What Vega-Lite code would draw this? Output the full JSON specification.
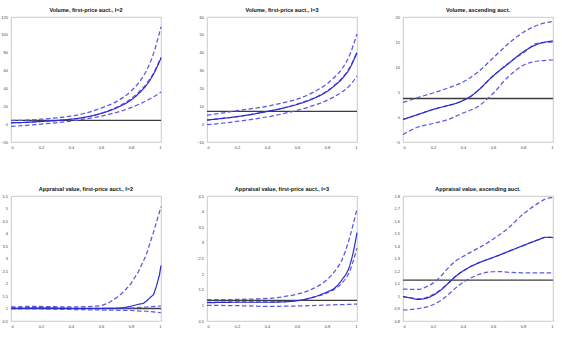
{
  "$schema": "https://vega.github.io/schema/vega-lite/v6.json",
  "background": "white",
  "autosize": {"type": "pad"},
  "padding": {"left": 0, "top": 7, "right": 4, "bottom": 4},
  "columns": 3,
  "spacing": {"row": 54, "column": 46},
  "bounds": "flush",
  "config": {
    "view": {"stroke": "#bdbdbd", "strokeWidth": 0.8},
    "axis": {
      "domain": false,
      "grid": false,
      "ticks": false,
      "labelPadding": 3.5,
      "labelFontSize": 4,
      "labelFont": "Liberation Sans",
      "labelColor": "#444444",
      "title": null,
      "format": "~r"
    },
    "title": {"fontSize": 5.5, "font": "Liberation Sans", "fontWeight": "bold", "color": "#111111", "offset": 2},
    "line": {"interpolate": "monotone"}
  },
  "datasets": {
    "vol_fp2": [
      {"x": 0, "y": 4.3, "series": "benchmark"}, {"x": 1, "y": 4.3, "series": "benchmark"},
      {"x": 0, "y": 4, "series": "upper"}, {"x": 0.1, "y": 4.5, "series": "upper"}, {"x": 0.2, "y": 5.5, "series": "upper"}, {"x": 0.3, "y": 7, "series": "upper"}, {"x": 0.4, "y": 9, "series": "upper"}, {"x": 0.5, "y": 12.5, "series": "upper"}, {"x": 0.6, "y": 18, "series": "upper"}, {"x": 0.7, "y": 25, "series": "upper"}, {"x": 0.8, "y": 37, "series": "upper"}, {"x": 0.85, "y": 46, "series": "upper"}, {"x": 0.9, "y": 59, "series": "upper"}, {"x": 0.95, "y": 79, "series": "upper"}, {"x": 1, "y": 109, "series": "upper"},
      {"x": 0, "y": -2.5, "series": "lower"}, {"x": 0.1, "y": -1.5, "series": "lower"}, {"x": 0.2, "y": 0, "series": "lower"}, {"x": 0.3, "y": 1.5, "series": "lower"}, {"x": 0.4, "y": 3.5, "series": "lower"}, {"x": 0.5, "y": 6, "series": "lower"}, {"x": 0.6, "y": 9, "series": "lower"}, {"x": 0.7, "y": 13, "series": "lower"}, {"x": 0.8, "y": 18.5, "series": "lower"}, {"x": 0.85, "y": 22, "series": "lower"}, {"x": 0.9, "y": 26, "series": "lower"}, {"x": 0.95, "y": 30.5, "series": "lower"}, {"x": 1, "y": 36, "series": "lower"},
      {"x": 0, "y": 1.5, "series": "median"}, {"x": 0.1, "y": 2, "series": "median"}, {"x": 0.2, "y": 3, "series": "median"}, {"x": 0.3, "y": 4, "series": "median"}, {"x": 0.4, "y": 5.5, "series": "median"}, {"x": 0.5, "y": 8, "series": "median"}, {"x": 0.6, "y": 12, "series": "median"}, {"x": 0.7, "y": 18.5, "series": "median"}, {"x": 0.8, "y": 28.5, "series": "median"}, {"x": 0.85, "y": 35.5, "series": "median"}, {"x": 0.9, "y": 44.5, "series": "median"}, {"x": 0.95, "y": 57, "series": "median"}, {"x": 1, "y": 75, "series": "median"},
      {"x": 0, "y": 1.5, "series": "estimate"}, {"x": 0.1, "y": 2, "series": "estimate"}, {"x": 0.2, "y": 3, "series": "estimate"}, {"x": 0.3, "y": 4, "series": "estimate"}, {"x": 0.4, "y": 5.5, "series": "estimate"}, {"x": 0.5, "y": 8, "series": "estimate"}, {"x": 0.6, "y": 12, "series": "estimate"}, {"x": 0.7, "y": 18, "series": "estimate"}, {"x": 0.8, "y": 27, "series": "estimate"}, {"x": 0.85, "y": 34, "series": "estimate"}, {"x": 0.9, "y": 43, "series": "estimate"}, {"x": 0.95, "y": 56, "series": "estimate"}, {"x": 1, "y": 74, "series": "estimate"}
    ],
    "vol_fp3": [
      {"x": 0, "y": 7.1, "series": "benchmark"}, {"x": 1, "y": 7.1, "series": "benchmark"},
      {"x": 0, "y": 5, "series": "upper"}, {"x": 0.1, "y": 6.2, "series": "upper"}, {"x": 0.2, "y": 7.5, "series": "upper"}, {"x": 0.3, "y": 8.7, "series": "upper"}, {"x": 0.4, "y": 10, "series": "upper"}, {"x": 0.5, "y": 11.8, "series": "upper"}, {"x": 0.6, "y": 14, "series": "upper"}, {"x": 0.7, "y": 17.5, "series": "upper"}, {"x": 0.8, "y": 22.6, "series": "upper"}, {"x": 0.85, "y": 26.3, "series": "upper"}, {"x": 0.9, "y": 31, "series": "upper"}, {"x": 0.95, "y": 38.5, "series": "upper"}, {"x": 1, "y": 50.5, "series": "upper"},
      {"x": 0, "y": -0.3, "series": "lower"}, {"x": 0.1, "y": 0.5, "series": "lower"}, {"x": 0.2, "y": 1.5, "series": "lower"}, {"x": 0.3, "y": 2.7, "series": "lower"}, {"x": 0.4, "y": 4, "series": "lower"}, {"x": 0.5, "y": 5.7, "series": "lower"}, {"x": 0.6, "y": 7.7, "series": "lower"}, {"x": 0.7, "y": 10.2, "series": "lower"}, {"x": 0.8, "y": 13.3, "series": "lower"}, {"x": 0.85, "y": 15.5, "series": "lower"}, {"x": 0.9, "y": 18, "series": "lower"}, {"x": 0.95, "y": 21.5, "series": "lower"}, {"x": 1, "y": 27, "series": "lower"},
      {"x": 0, "y": 2.3, "series": "median"}, {"x": 0.1, "y": 3.2, "series": "median"}, {"x": 0.2, "y": 4.2, "series": "median"}, {"x": 0.3, "y": 5.5, "series": "median"}, {"x": 0.4, "y": 7.1, "series": "median"}, {"x": 0.5, "y": 8.9, "series": "median"}, {"x": 0.6, "y": 11.2, "series": "median"}, {"x": 0.7, "y": 14.2, "series": "median"}, {"x": 0.8, "y": 18.5, "series": "median"}, {"x": 0.85, "y": 21.8, "series": "median"}, {"x": 0.9, "y": 25.8, "series": "median"}, {"x": 0.95, "y": 31.5, "series": "median"}, {"x": 1, "y": 40.5, "series": "median"},
      {"x": 0, "y": 2.3, "series": "estimate"}, {"x": 0.1, "y": 3.2, "series": "estimate"}, {"x": 0.2, "y": 4.2, "series": "estimate"}, {"x": 0.3, "y": 5.5, "series": "estimate"}, {"x": 0.4, "y": 7.1, "series": "estimate"}, {"x": 0.5, "y": 8.8, "series": "estimate"}, {"x": 0.6, "y": 11, "series": "estimate"}, {"x": 0.7, "y": 14, "series": "estimate"}, {"x": 0.8, "y": 18.3, "series": "estimate"}, {"x": 0.85, "y": 21.5, "series": "estimate"}, {"x": 0.9, "y": 25.4, "series": "estimate"}, {"x": 0.95, "y": 31, "series": "estimate"}, {"x": 1, "y": 40, "series": "estimate"}
    ],
    "vol_asc": [
      {"x": 0, "y": 3.7, "series": "benchmark"}, {"x": 1, "y": 3.7, "series": "benchmark"},
      {"x": 0, "y": 2.9, "series": "upper"}, {"x": 0.1, "y": 3.9, "series": "upper"}, {"x": 0.2, "y": 4.8, "series": "upper"}, {"x": 0.3, "y": 5.8, "series": "upper"}, {"x": 0.4, "y": 7, "series": "upper"}, {"x": 0.5, "y": 9, "series": "upper"}, {"x": 0.6, "y": 11.8, "series": "upper"}, {"x": 0.7, "y": 14.6, "series": "upper"}, {"x": 0.8, "y": 16.9, "series": "upper"}, {"x": 0.9, "y": 18.4, "series": "upper"}, {"x": 1, "y": 19.1, "series": "upper"},
      {"x": 0, "y": -3.5, "series": "lower"}, {"x": 0.1, "y": -2, "series": "lower"}, {"x": 0.2, "y": -1.3, "series": "lower"}, {"x": 0.3, "y": -0.5, "series": "lower"}, {"x": 0.4, "y": 0.8, "series": "lower"}, {"x": 0.5, "y": 2.1, "series": "lower"}, {"x": 0.6, "y": 4.7, "series": "lower"}, {"x": 0.7, "y": 8, "series": "lower"}, {"x": 0.8, "y": 10.3, "series": "lower"}, {"x": 0.9, "y": 11.2, "series": "lower"}, {"x": 1, "y": 11.4, "series": "lower"},
      {"x": 0, "y": -0.5, "series": "median"}, {"x": 0.1, "y": 0.5, "series": "median"}, {"x": 0.2, "y": 1.5, "series": "median"}, {"x": 0.3, "y": 2.3, "series": "median"}, {"x": 0.35, "y": 2.7, "series": "median"}, {"x": 0.4, "y": 3.3, "series": "median"}, {"x": 0.45, "y": 4.1, "series": "median"}, {"x": 0.5, "y": 5.3, "series": "median"}, {"x": 0.6, "y": 8.2, "series": "median"}, {"x": 0.7, "y": 10.7, "series": "median"}, {"x": 0.8, "y": 12.8, "series": "median"}, {"x": 0.9, "y": 14.8, "series": "median"}, {"x": 1, "y": 15, "series": "median"},
      {"x": 0, "y": -0.5, "series": "estimate"}, {"x": 0.1, "y": 0.5, "series": "estimate"}, {"x": 0.2, "y": 1.5, "series": "estimate"}, {"x": 0.3, "y": 2.3, "series": "estimate"}, {"x": 0.35, "y": 2.7, "series": "estimate"}, {"x": 0.4, "y": 3.3, "series": "estimate"}, {"x": 0.45, "y": 4.1, "series": "estimate"}, {"x": 0.5, "y": 5.3, "series": "estimate"}, {"x": 0.6, "y": 8.2, "series": "estimate"}, {"x": 0.7, "y": 10.6, "series": "estimate"}, {"x": 0.8, "y": 13, "series": "estimate"}, {"x": 0.9, "y": 14.6, "series": "estimate"}, {"x": 1, "y": 15.2, "series": "estimate"}
    ],
    "app_fp2": [
      {"x": 0, "y": 1.0, "series": "benchmark"}, {"x": 1, "y": 1.0, "series": "benchmark"},
      {"x": 0, "y": 1.06, "series": "upper"}, {"x": 0.1, "y": 1.08, "series": "upper"}, {"x": 0.2, "y": 1.08, "series": "upper"}, {"x": 0.3, "y": 1.07, "series": "upper"}, {"x": 0.4, "y": 1.06, "series": "upper"}, {"x": 0.5, "y": 1.07, "series": "upper"}, {"x": 0.6, "y": 1.11, "series": "upper"}, {"x": 0.65, "y": 1.22, "series": "upper"}, {"x": 0.7, "y": 1.42, "series": "upper"}, {"x": 0.75, "y": 1.66, "series": "upper"}, {"x": 0.8, "y": 2.0, "series": "upper"}, {"x": 0.85, "y": 2.48, "series": "upper"}, {"x": 0.9, "y": 3.12, "series": "upper"}, {"x": 0.95, "y": 4.05, "series": "upper"}, {"x": 1, "y": 5.07, "series": "upper"},
      {"x": 0, "y": 0.99, "series": "lower"}, {"x": 0.2, "y": 0.98, "series": "lower"}, {"x": 0.4, "y": 0.96, "series": "lower"}, {"x": 0.6, "y": 0.94, "series": "lower"}, {"x": 0.8, "y": 0.92, "series": "lower"}, {"x": 0.9, "y": 0.89, "series": "lower"}, {"x": 1, "y": 0.83, "series": "lower"},
      {"x": 0, "y": 1.03, "series": "median"}, {"x": 0.2, "y": 1.04, "series": "median"}, {"x": 0.4, "y": 1.02, "series": "median"}, {"x": 0.6, "y": 1.0, "series": "median"}, {"x": 0.7, "y": 1.0, "series": "median"}, {"x": 0.8, "y": 1.02, "series": "median"}, {"x": 0.9, "y": 1.06, "series": "median"}, {"x": 1, "y": 1.1, "series": "median"},
      {"x": 0, "y": 1.0, "series": "estimate"}, {"x": 0.1, "y": 1.01, "series": "estimate"}, {"x": 0.2, "y": 1.02, "series": "estimate"}, {"x": 0.3, "y": 1.01, "series": "estimate"}, {"x": 0.4, "y": 1.0, "series": "estimate"}, {"x": 0.5, "y": 1.0, "series": "estimate"}, {"x": 0.6, "y": 1.0, "series": "estimate"}, {"x": 0.7, "y": 1.01, "series": "estimate"}, {"x": 0.75, "y": 1.03, "series": "estimate"}, {"x": 0.8, "y": 1.09, "series": "estimate"}, {"x": 0.85, "y": 1.17, "series": "estimate"}, {"x": 0.88, "y": 1.2, "series": "estimate"}, {"x": 0.9, "y": 1.28, "series": "estimate"}, {"x": 0.93, "y": 1.45, "series": "estimate"}, {"x": 0.95, "y": 1.55, "series": "estimate"}, {"x": 0.97, "y": 1.9, "series": "estimate"}, {"x": 0.99, "y": 2.35, "series": "estimate"}, {"x": 1, "y": 2.72, "series": "estimate"}
    ],
    "app_fp3": [
      {"x": 0, "y": 1.16, "series": "benchmark"}, {"x": 1, "y": 1.16, "series": "benchmark"},
      {"x": 0, "y": 1.18, "series": "upper"}, {"x": 0.2, "y": 1.19, "series": "upper"}, {"x": 0.4, "y": 1.22, "series": "upper"}, {"x": 0.5, "y": 1.27, "series": "upper"}, {"x": 0.6, "y": 1.36, "series": "upper"}, {"x": 0.7, "y": 1.52, "series": "upper"}, {"x": 0.8, "y": 1.82, "series": "upper"}, {"x": 0.85, "y": 2.08, "series": "upper"}, {"x": 0.9, "y": 2.46, "series": "upper"}, {"x": 0.95, "y": 3.15, "series": "upper"}, {"x": 1, "y": 4.1, "series": "upper"},
      {"x": 0, "y": 1.0, "series": "lower"}, {"x": 0.2, "y": 0.99, "series": "lower"}, {"x": 0.4, "y": 0.97, "series": "lower"}, {"x": 0.6, "y": 0.98, "series": "lower"}, {"x": 0.8, "y": 1.01, "series": "lower"}, {"x": 1, "y": 1.04, "series": "lower"},
      {"x": 0, "y": 1.1, "series": "median"}, {"x": 0.2, "y": 1.11, "series": "median"}, {"x": 0.4, "y": 1.11, "series": "median"}, {"x": 0.6, "y": 1.15, "series": "median"}, {"x": 0.7, "y": 1.25, "series": "median"}, {"x": 0.8, "y": 1.4, "series": "median"}, {"x": 0.85, "y": 1.52, "series": "median"}, {"x": 0.9, "y": 1.71, "series": "median"}, {"x": 0.95, "y": 2.08, "series": "median"}, {"x": 1, "y": 2.83, "series": "median"},
      {"x": 0, "y": 1.085, "series": "estimate"}, {"x": 0.2, "y": 1.1, "series": "estimate"}, {"x": 0.4, "y": 1.1, "series": "estimate"}, {"x": 0.5, "y": 1.11, "series": "estimate"}, {"x": 0.6, "y": 1.15, "series": "estimate"}, {"x": 0.7, "y": 1.25, "series": "estimate"}, {"x": 0.8, "y": 1.43, "series": "estimate"}, {"x": 0.85, "y": 1.55, "series": "estimate"}, {"x": 0.9, "y": 1.82, "series": "estimate"}, {"x": 0.95, "y": 2.25, "series": "estimate"}, {"x": 0.975, "y": 2.7, "series": "estimate"}, {"x": 1, "y": 3.33, "series": "estimate"}
    ],
    "app_asc": [
      {"x": 0, "y": 1.127, "series": "benchmark"}, {"x": 1, "y": 1.127, "series": "benchmark"},
      {"x": 0, "y": 1.055, "series": "upper"}, {"x": 0.1, "y": 1.053, "series": "upper"}, {"x": 0.15, "y": 1.07, "series": "upper"}, {"x": 0.2, "y": 1.103, "series": "upper"}, {"x": 0.25, "y": 1.156, "series": "upper"}, {"x": 0.3, "y": 1.223, "series": "upper"}, {"x": 0.35, "y": 1.28, "series": "upper"}, {"x": 0.4, "y": 1.316, "series": "upper"}, {"x": 0.5, "y": 1.382, "series": "upper"}, {"x": 0.6, "y": 1.454, "series": "upper"}, {"x": 0.7, "y": 1.542, "series": "upper"}, {"x": 0.8, "y": 1.654, "series": "upper"}, {"x": 0.9, "y": 1.741, "series": "upper"}, {"x": 0.95, "y": 1.776, "series": "upper"}, {"x": 1, "y": 1.787, "series": "upper"},
      {"x": 0, "y": 0.888, "series": "lower"}, {"x": 0.1, "y": 0.898, "series": "lower"}, {"x": 0.2, "y": 0.93, "series": "lower"}, {"x": 0.25, "y": 0.962, "series": "lower"}, {"x": 0.3, "y": 1.01, "series": "lower"}, {"x": 0.35, "y": 1.063, "series": "lower"}, {"x": 0.4, "y": 1.108, "series": "lower"}, {"x": 0.45, "y": 1.143, "series": "lower"}, {"x": 0.5, "y": 1.17, "series": "lower"}, {"x": 0.6, "y": 1.194, "series": "lower"}, {"x": 0.65, "y": 1.196, "series": "lower"}, {"x": 0.7, "y": 1.19, "series": "lower"}, {"x": 0.8, "y": 1.186, "series": "lower"}, {"x": 0.9, "y": 1.186, "series": "lower"}, {"x": 1, "y": 1.186, "series": "lower"},
      {"x": 0, "y": 0.995, "series": "median"}, {"x": 0.05, "y": 0.986, "series": "median"}, {"x": 0.1, "y": 0.978, "series": "median"}, {"x": 0.15, "y": 0.986, "series": "median"}, {"x": 0.2, "y": 1.012, "series": "median"}, {"x": 0.25, "y": 1.05, "series": "median"}, {"x": 0.3, "y": 1.1, "series": "median"}, {"x": 0.35, "y": 1.156, "series": "median"}, {"x": 0.4, "y": 1.2, "series": "median"}, {"x": 0.45, "y": 1.235, "series": "median"}, {"x": 0.5, "y": 1.263, "series": "median"}, {"x": 0.6, "y": 1.308, "series": "median"}, {"x": 0.7, "y": 1.355, "series": "median"}, {"x": 0.8, "y": 1.403, "series": "median"}, {"x": 0.9, "y": 1.449, "series": "median"}, {"x": 0.95, "y": 1.468, "series": "median"}, {"x": 1, "y": 1.47, "series": "median"},
      {"x": 0, "y": 0.995, "series": "estimate"}, {"x": 0.05, "y": 0.984, "series": "estimate"}, {"x": 0.1, "y": 0.973, "series": "estimate"}, {"x": 0.15, "y": 0.98, "series": "estimate"}, {"x": 0.2, "y": 1.005, "series": "estimate"}, {"x": 0.25, "y": 1.045, "series": "estimate"}, {"x": 0.3, "y": 1.1, "series": "estimate"}, {"x": 0.35, "y": 1.156, "series": "estimate"}, {"x": 0.4, "y": 1.2, "series": "estimate"}, {"x": 0.45, "y": 1.235, "series": "estimate"}, {"x": 0.5, "y": 1.263, "series": "estimate"}, {"x": 0.6, "y": 1.308, "series": "estimate"}, {"x": 0.7, "y": 1.355, "series": "estimate"}, {"x": 0.8, "y": 1.403, "series": "estimate"}, {"x": 0.9, "y": 1.449, "series": "estimate"}, {"x": 0.95, "y": 1.47, "series": "estimate"}, {"x": 1, "y": 1.467, "series": "estimate"}
    ]
  },
  "concat": [
    {
      "title": "Volume, first-price auct., I=2",
      "width": 150, "height": 125,
      "data": {"name": "vol_fp2"},
      "mark": {"type": "line"},
      "encoding": {
        "x": {"field": "x", "type": "quantitative", "scale": {"domain": [0, 1], "nice": false}, "axis": {"values": [0, 0.2, 0.4, 0.6, 0.8, 1]}},
        "y": {"field": "y", "type": "quantitative", "scale": {"domain": [-20, 120], "nice": false, "zero": false}, "axis": {"values": [-20, 0, 20, 40, 60, 80, 100, 120]}},
        "detail": {"field": "series"},
        "color": {"field": "series", "type": "nominal", "scale": {"domain": ["benchmark", "upper", "lower", "median", "estimate"], "range": ["#3c3c3c", "#5a5ae0", "#5a5ae0", "#5a5ae0", "#2a2ad0"]}, "legend": null},
        "strokeDash": {"field": "series", "type": "nominal", "scale": {"domain": ["benchmark", "upper", "lower", "median", "estimate"], "range": [[1, 0], [4.5, 2.5], [4.5, 2.5], [4.5, 2.5], [1, 0]]}, "legend": null},
        "strokeWidth": {"field": "series", "type": "ordinal", "scale": {"domain": ["benchmark", "upper", "lower", "median", "estimate"], "range": [1.3, 1.2, 1.2, 1.2, 1.3]}, "legend": null}
      }
    },
    {
      "title": "Volume, first-price auct., I=3",
      "width": 150, "height": 125,
      "data": {"name": "vol_fp3"},
      "mark": {"type": "line"},
      "encoding": {
        "x": {"field": "x", "type": "quantitative", "scale": {"domain": [0, 1], "nice": false}, "axis": {"values": [0, 0.2, 0.4, 0.6, 0.8, 1]}},
        "y": {"field": "y", "type": "quantitative", "scale": {"domain": [-10, 60], "nice": false, "zero": false}, "axis": {"values": [-10, 0, 10, 20, 30, 40, 50, 60]}},
        "detail": {"field": "series"},
        "color": {"field": "series", "type": "nominal", "scale": {"domain": ["benchmark", "upper", "lower", "median", "estimate"], "range": ["#3c3c3c", "#5a5ae0", "#5a5ae0", "#5a5ae0", "#2a2ad0"]}, "legend": null},
        "strokeDash": {"field": "series", "type": "nominal", "scale": {"domain": ["benchmark", "upper", "lower", "median", "estimate"], "range": [[1, 0], [4.5, 2.5], [4.5, 2.5], [4.5, 2.5], [1, 0]]}, "legend": null},
        "strokeWidth": {"field": "series", "type": "ordinal", "scale": {"domain": ["benchmark", "upper", "lower", "median", "estimate"], "range": [1.3, 1.2, 1.2, 1.2, 1.3]}, "legend": null}
      }
    },
    {
      "title": "Volume, ascending auct.",
      "width": 150, "height": 125,
      "data": {"name": "vol_asc"},
      "mark": {"type": "line"},
      "encoding": {
        "x": {"field": "x", "type": "quantitative", "scale": {"domain": [0, 1], "nice": false}, "axis": {"values": [0, 0.2, 0.4, 0.6, 0.8, 1]}},
        "y": {"field": "y", "type": "quantitative", "scale": {"domain": [-5, 20], "nice": false, "zero": false}, "axis": {"values": [-5, 0, 5, 10, 15, 20]}},
        "detail": {"field": "series"},
        "color": {"field": "series", "type": "nominal", "scale": {"domain": ["benchmark", "upper", "lower", "median", "estimate"], "range": ["#3c3c3c", "#5a5ae0", "#5a5ae0", "#5a5ae0", "#2a2ad0"]}, "legend": null},
        "strokeDash": {"field": "series", "type": "nominal", "scale": {"domain": ["benchmark", "upper", "lower", "median", "estimate"], "range": [[1, 0], [4.5, 2.5], [4.5, 2.5], [4.5, 2.5], [1, 0]]}, "legend": null},
        "strokeWidth": {"field": "series", "type": "ordinal", "scale": {"domain": ["benchmark", "upper", "lower", "median", "estimate"], "range": [1.3, 1.2, 1.2, 1.2, 1.3]}, "legend": null}
      }
    },
    {
      "title": "Appraisal value, first-price auct., I=2",
      "width": 150, "height": 125,
      "data": {"name": "app_fp2"},
      "mark": {"type": "line", "interpolate": "linear"},
      "encoding": {
        "x": {"field": "x", "type": "quantitative", "scale": {"domain": [0, 1], "nice": false}, "axis": {"values": [0, 0.2, 0.4, 0.6, 0.8, 1]}},
        "y": {"field": "y", "type": "quantitative", "scale": {"domain": [0.5, 5.5], "nice": false, "zero": false}, "axis": {"values": [0.5, 1, 1.5, 2, 2.5, 3, 3.5, 4, 4.5, 5, 5.5]}},
        "detail": {"field": "series"},
        "color": {"field": "series", "type": "nominal", "scale": {"domain": ["benchmark", "upper", "lower", "median", "estimate"], "range": ["#3c3c3c", "#5a5ae0", "#5a5ae0", "#5a5ae0", "#2a2ad0"]}, "legend": null},
        "strokeDash": {"field": "series", "type": "nominal", "scale": {"domain": ["benchmark", "upper", "lower", "median", "estimate"], "range": [[1, 0], [4.5, 2.5], [4.5, 2.5], [4.5, 2.5], [1, 0]]}, "legend": null},
        "strokeWidth": {"field": "series", "type": "ordinal", "scale": {"domain": ["benchmark", "upper", "lower", "median", "estimate"], "range": [1.3, 1.2, 1.2, 1.2, 1.3]}, "legend": null}
      }
    },
    {
      "title": "Appraisal value, first-price auct., I=3",
      "width": 150, "height": 125,
      "data": {"name": "app_fp3"},
      "mark": {"type": "line"},
      "encoding": {
        "x": {"field": "x", "type": "quantitative", "scale": {"domain": [0, 1], "nice": false}, "axis": {"values": [0, 0.2, 0.4, 0.6, 0.8, 1]}},
        "y": {"field": "y", "type": "quantitative", "scale": {"domain": [0.5, 4.5], "nice": false, "zero": false}, "axis": {"values": [0.5, 1, 1.5, 2, 2.5, 3, 3.5, 4, 4.5]}},
        "detail": {"field": "series"},
        "color": {"field": "series", "type": "nominal", "scale": {"domain": ["benchmark", "upper", "lower", "median", "estimate"], "range": ["#3c3c3c", "#5a5ae0", "#5a5ae0", "#5a5ae0", "#2a2ad0"]}, "legend": null},
        "strokeDash": {"field": "series", "type": "nominal", "scale": {"domain": ["benchmark", "upper", "lower", "median", "estimate"], "range": [[1, 0], [4.5, 2.5], [4.5, 2.5], [4.5, 2.5], [1, 0]]}, "legend": null},
        "strokeWidth": {"field": "series", "type": "ordinal", "scale": {"domain": ["benchmark", "upper", "lower", "median", "estimate"], "range": [1.3, 1.2, 1.2, 1.2, 1.3]}, "legend": null}
      }
    },
    {
      "title": "Appraisal value, ascending auct.",
      "width": 150, "height": 125,
      "data": {"name": "app_asc"},
      "mark": {"type": "line"},
      "encoding": {
        "x": {"field": "x", "type": "quantitative", "scale": {"domain": [0, 1], "nice": false}, "axis": {"values": [0, 0.2, 0.4, 0.6, 0.8, 1]}},
        "y": {"field": "y", "type": "quantitative", "scale": {"domain": [0.8, 1.8], "nice": false, "zero": false}, "axis": {"values": [0.8, 0.9, 1, 1.1, 1.2, 1.3, 1.4, 1.5, 1.6, 1.7, 1.8]}},
        "detail": {"field": "series"},
        "color": {"field": "series", "type": "nominal", "scale": {"domain": ["benchmark", "upper", "lower", "median", "estimate"], "range": ["#3c3c3c", "#5a5ae0", "#5a5ae0", "#5a5ae0", "#2a2ad0"]}, "legend": null},
        "strokeDash": {"field": "series", "type": "nominal", "scale": {"domain": ["benchmark", "upper", "lower", "median", "estimate"], "range": [[1, 0], [4.5, 2.5], [4.5, 2.5], [4.5, 2.5], [1, 0]]}, "legend": null},
        "strokeWidth": {"field": "series", "type": "ordinal", "scale": {"domain": ["benchmark", "upper", "lower", "median", "estimate"], "range": [1.3, 1.2, 1.2, 1.2, 1.3]}, "legend": null}
      }
    }
  ]
}
